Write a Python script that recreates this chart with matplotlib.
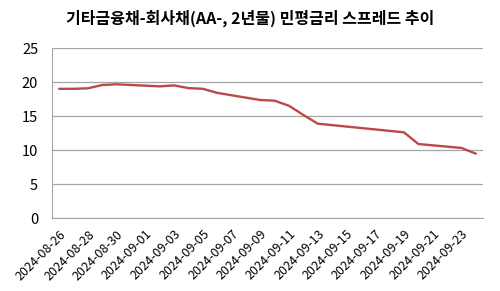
import numpy as np
import pandas as pd
import matplotlib
matplotlib.use("Agg")
import matplotlib.pyplot as plt

plt.rcParams['font.family'] = ['Noto Sans CJK KR', 'DejaVu Sans']

# trading days and spread (bp)
dates = ["2024-08-26", "2024-08-27", "2024-08-28", "2024-08-29", "2024-08-30",
         "2024-09-02", "2024-09-03", "2024-09-04", "2024-09-05", "2024-09-06",
         "2024-09-09", "2024-09-10", "2024-09-11", "2024-09-12", "2024-09-13",
         "2024-09-19", "2024-09-20", "2024-09-23", "2024-09-24"]
spread = [19.0, 19.0, 19.07, 19.56, 19.66,
          19.36, 19.5, 19.1, 19.0, 18.4,
          17.35, 17.25, 16.5, 15.15, 13.87,
          12.6, 10.88, 10.3, 9.46]

start = pd.Timestamp("2024-08-26")
end = pd.Timestamp("2024-09-24")
d = pd.to_datetime(dates)
xpos = (d - start).days.values
all_days = pd.date_range(start, end, freq="D")
tick_idx = np.arange(0, len(all_days), 2)
tick_lbl = [all_days[i].strftime("%Y-%m-%d") for i in tick_idx]

fig = plt.figure(figsize=(5.0, 2.91), dpi=100, facecolor="white")
ax = fig.add_axes([52/500, 1 - 218/291, 431/500, 170/291])

ax.plot(xpos, spread, color="#BA4A47", lw=1.7, solid_capstyle="round", zorder=3)

ax.set_xlim(-0.5, len(all_days) - 0.5)
ax.set_ylim(0, 25)
ax.set_yticks([0, 5, 10, 15, 20, 25])
ax.yaxis.grid(True, color="#A6A6A6", lw=0.9)
ax.set_axisbelow(True)
for sp in ["top", "right"]:
    ax.spines[sp].set_visible(False)
ax.spines["left"].set_color("#A6A6A6")
ax.spines["bottom"].set_color("#A6A6A6")
ax.tick_params(axis="y", length=0, labelsize=10.5, colors="black", pad=10)
ax.tick_params(axis="x", length=0, labelsize=9, colors="black", pad=7)

ax.set_xticks(tick_idx)
ax.set_xticklabels(tick_lbl, rotation=45, ha="right", rotation_mode="anchor")

fig.text(0.5, 1 - 18/291, "기타금융채-회사채(AA-, 2년물) 민평금리 스프레드 추이",
         ha="center", va="center", fontsize=11.5, fontweight="bold")

fig.savefig("out.png", dpi=100, facecolor="white")
